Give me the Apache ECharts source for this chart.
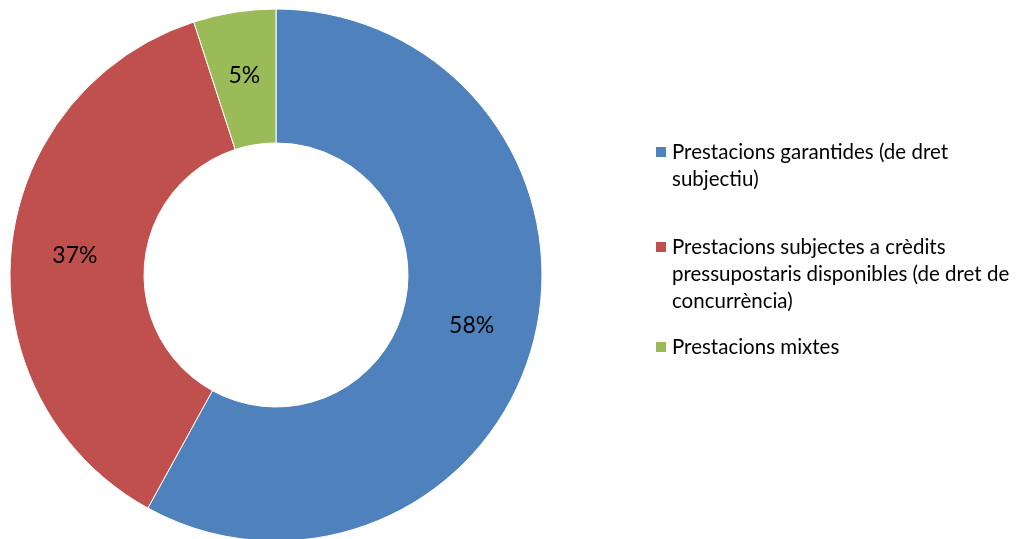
<!DOCTYPE html>
<html>
<head>
<meta charset="utf-8">
<script src="https://cdn.jsdelivr.net/npm/echarts@6/dist/echarts.min.js"></script>
<style>
  html, body { margin: 0; padding: 0; background: #fff; }
  #chart { width: 1027px; height: 539px; }
</style>
</head>
<body>
<div id="chart"></div>
<script>
// dades del gràfic
const categories = [
  'Prestacions garantides (de dret subjectiu)',
  'Prestacions subjectes a crèdits pressupostaris disponibles (de dret de concurrència)',
  'Prestacions mixtes'
]
const values = [58, 37, 5]
// text de la llegenda partit en línies com a l'original
const legendLines = [
  ['Prestacions garantides (de dret', 'subjectiu)'],
  ['Prestacions subjectes a crèdits', 'pressupostaris disponibles (de dret de', 'concurrència)'],
  ['Prestacions mixtes']
]
const colors = ['#4F81BD', '#C0504D', '#9BBB59']

const font = 'Lato, "Open Sans", sans-serif'
const lineH = 27
const legendTops = [152, 247, 347] // centre de la primera línia

const chart = echarts.init(document.getElementById('chart'))

// una llegenda per element, per poder controlar l'espai entre elements
const legends = categories.map((name, i) => {
  const n = legendLines[i].length
  // línies buides al davant perquè el quadrat quedi alineat amb la primera línia
  const pad = new Array(n - 1).fill('')
  const text = pad.concat(legendLines[i]).join('\n')
  const half = (2 * n - 1) * lineH / 2
  return {
    data: [name],
    left: 654,
    top: legendTops[i] - half,
    padding: 0,
    itemWidth: 12,
    itemHeight: 12,
    itemGap: 0,
    icon: 'rect',
    selectedMode: false,
    formatter: () => text,
    textStyle: {
      fontFamily: font,
      fontSize: 20.5,
      lineHeight: lineH,
      color: '#000'
    }
  }
})

chart.setOption({
  animation: false,
  color: colors,
  legend: legends,
  series: [
    {
      type: 'pie',
      center: [276, 275],
      radius: [132, 266],
      startAngle: 90,
      clockwise: true,
      itemStyle: {
        borderColor: '#fff',
        borderWidth: 1
      },
      label: {
        show: true,
        position: 'inside',
        formatter: '{c}%',
        color: '#000',
        fontFamily: font,
        fontSize: 23
      },
      labelLine: { show: false },
      emphasis: { disabled: true },
      data: categories.map((name, i) => ({ name, value: values[i] }))
    }
  ]
})
</script>
</body>
</html>
